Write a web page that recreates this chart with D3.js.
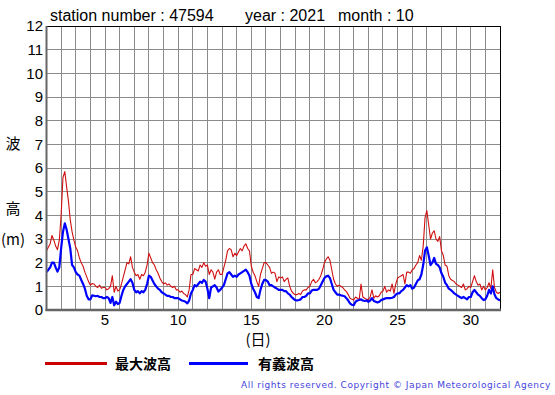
<!DOCTYPE html>
<html><head><meta charset="utf-8">
<script src="https://cdn.jsdelivr.net/npm/d3@7"></script>
<style>body{margin:0;background:#fff}svg{display:block}text{font-family:"Liberation Sans",Arial,sans-serif}</style>
</head><body>
<svg id="c" width="555" height="395"></svg>
<script>
// 3-hourly values, Oct 1 00h .. Nov 1 00h (8 per day)
const maxWave = [
 2.5,2.65,2.8,3.15,2.95,2.7,2.55,2.95,
 4.0,5.6,5.85,5.2,4.6,3.8,3.3,2.95,
 2.65,2.5,2.2,2.0,1.85,1.6,1.4,1.2,
 1.05,1.12,1.1,1.0,0.95,1.05,0.92,0.95,
 0.95,0.85,0.9,1.0,1.45,0.75,1.0,0.8,
 0.85,1.1,1.4,1.7,2.0,1.95,2.25,1.8,
 1.6,1.45,1.5,1.3,1.5,1.45,1.6,1.9,
 2.4,2.2,2.0,1.9,1.7,1.55,1.35,1.2,
 1.1,1.15,1.05,1.1,1.0,0.95,1.0,0.85,
 0.85,0.75,0.8,0.7,0.65,0.55,0.85,1.5,
 1.5,1.75,1.7,1.65,1.9,1.8,2.0,1.85,
 1.9,1.5,1.7,1.6,1.3,1.6,1.7,1.5,
 1.5,1.8,2.1,2.5,2.6,2.55,2.25,2.4,
 2.3,2.45,2.6,2.5,2.7,2.8,2.6,2.5,
 1.85,1.6,1.45,1.2,1.0,1.5,1.75,2.0,
 2.0,1.9,1.8,1.55,1.6,1.55,1.2,1.4,
 1.35,1.4,1.2,1.3,1.35,1.0,0.8,0.7,
 0.65,0.65,0.7,0.65,0.8,0.85,0.85,0.95,
 1.0,1.2,1.3,1.15,1.2,1.3,1.45,1.7,
 2.0,2.15,2.25,2.1,1.7,1.3,1.1,1.0,
 1.05,1.0,0.95,0.85,0.78,0.65,0.5,0.45,
 0.42,0.55,0.5,0.45,1.1,0.55,0.5,0.45,
 0.45,0.55,0.85,0.5,0.6,0.55,0.6,0.75,
 0.8,1.0,0.75,0.85,0.8,1.1,0.7,1.1,
 1.35,1.4,1.45,1.5,1.1,1.6,1.6,1.55,
 1.7,1.75,1.9,2.0,2.3,2.1,2.7,3.9,
 4.2,3.6,3.0,3.25,3.35,3.0,2.9,3.1,
 2.5,2.3,1.9,1.85,1.45,1.3,1.25,1.2,
 1.1,1.05,1.0,0.95,1.1,0.85,0.9,1.0,
 0.95,1.2,1.45,1.2,1.05,1.1,0.85,1.0,
 0.85,0.95,1.15,0.9,1.7,0.95,0.75,0.7,
 0.75];
const sigWave = [
 1.6,1.7,1.8,2.0,2.0,1.8,1.62,1.8,
 2.6,3.3,3.66,3.4,3.0,2.6,1.9,1.8,
 1.6,1.5,1.45,1.27,1.1,0.9,0.6,0.45,
 0.45,0.62,0.6,0.58,0.6,0.55,0.55,0.5,
 0.5,0.55,0.5,0.3,0.55,0.2,0.35,0.25,
 0.3,0.6,0.85,1.0,1.1,1.2,1.3,1.15,
 0.85,0.75,0.8,0.7,0.8,0.75,0.85,1.1,
 1.45,1.4,1.25,1.1,1.0,0.9,0.85,0.75,
 0.7,0.65,0.6,0.6,0.55,0.55,0.5,0.5,
 0.5,0.45,0.4,0.38,0.35,0.28,0.4,0.7,
 0.85,1.05,1.0,1.1,1.2,1.15,1.27,1.2,
 0.9,0.5,0.95,1.0,1.05,0.95,0.78,0.85,
 0.95,1.05,1.3,1.55,1.6,1.5,1.4,1.45,
 1.4,1.5,1.55,1.6,1.65,1.7,1.6,1.45,
 1.1,0.9,0.75,0.55,0.5,0.85,1.1,1.27,
 1.27,1.2,1.05,1.05,1.0,0.95,0.9,0.85,
 0.85,0.85,0.8,0.8,0.7,0.65,0.55,0.48,
 0.42,0.4,0.42,0.45,0.55,0.55,0.6,0.7,
 0.7,0.82,0.85,0.85,0.85,0.9,1.05,1.2,
 1.35,1.42,1.45,1.35,1.1,0.85,0.75,0.65,
 0.65,0.62,0.6,0.58,0.5,0.4,0.28,0.22,
 0.2,0.35,0.4,0.42,0.45,0.4,0.38,0.4,
 0.35,0.4,0.5,0.38,0.35,0.32,0.35,0.42,
 0.45,0.48,0.5,0.5,0.5,0.52,0.55,0.65,
 0.7,0.7,0.8,0.85,0.95,1.05,1.0,1.05,
 0.9,0.95,1.1,1.25,1.3,1.5,1.9,2.5,
 2.65,2.3,1.9,2.0,2.2,1.95,1.9,1.8,
 1.55,1.4,1.15,1.05,0.9,0.85,0.78,0.7,
 0.65,0.6,0.55,0.5,0.55,0.5,0.45,0.55,
 0.55,0.75,0.85,0.75,0.65,0.6,0.5,0.42,
 0.45,0.6,0.85,0.7,1.0,0.65,0.5,0.45,
 0.4];
const xTicks = [5,10,15,20,25,30];
const yTicks = [0,1,2,3,4,5,6,7,8,9,10,11,12];
const titleParts = ["station number : 47594","year : 2021","month : 10"];
const seriesNames = ["最大波高","有義波高"];

const svg = d3.select("#c");
const L=46.5, R=500, T=26, B=310;
const x = d3.scaleLinear().domain([1,32]).range([L,R]);
const y = d3.scaleLinear().domain([0,12]).range([B,T]);
const days = d3.range(1,33);

// grid
const g = svg.append("g");
g.selectAll(".vg").data(days).join("line")
  .attr("x1",d=>x(d)).attr("x2",d=>x(d)).attr("y1",T).attr("y2",B)
  .attr("stroke","#8c8c8c").attr("stroke-width",1).attr("shape-rendering","crispEdges");
g.selectAll(".hg").data(yTicks).join("line")
  .attr("x1",L).attr("x2",R).attr("y1",d=>y(d)).attr("y2",d=>y(d))
  .attr("stroke","#8c8c8c").attr("stroke-width",1).attr("shape-rendering","crispEdges");

// lines
const tOf = i => 1 + i/8;
const line = d3.line().x((d,i)=>x(tOf(i))).y(d=>y(d));
svg.append("path").datum(maxWave).attr("d",line)
  .attr("fill","none").attr("stroke","#d01010").attr("stroke-width",1.1).attr("stroke-linejoin","round");
svg.append("path").datum(sigWave).attr("d",line)
  .attr("fill","none").attr("stroke","#0000ff").attr("stroke-width",2.2).attr("stroke-linejoin","round");

// frame
svg.append("line").attr("x1",L).attr("x2",R).attr("y1",T+0.5).attr("y2",T+0.5).attr("stroke","#000");
svg.append("line").attr("x1",R+0.5).attr("x2",R+0.5).attr("y1",T).attr("y2",B).attr("stroke","#000");
svg.append("line").attr("x1",L).attr("x2",L).attr("y1",T).attr("y2",B+1).attr("stroke","#666").attr("stroke-width",2);
svg.append("line").attr("x1",L-1).attr("x2",R+1).attr("y1",B).attr("y2",B).attr("stroke","#666").attr("stroke-width",2.5);

// axis labels
svg.selectAll(".yt").data(yTicks).join("text")
  .attr("x",43).attr("y",d=>y(d)).attr("dy","0.36em").attr("text-anchor","end")
  .attr("font-size",15).attr("fill","#000").text(d=>d);
svg.selectAll(".xt").data(xTicks).join("text")
  .attr("x",d=>x(d)).attr("y",325).attr("text-anchor","middle")
  .attr("font-size",15).attr("fill","#000").text(d=>d);

// title
const tx=[50,245,338];
svg.selectAll(".tt").data(titleParts).join("text")
  .attr("x",(d,i)=>tx[i]).attr("y",21).attr("font-size",16).attr("fill","#000").text(d=>d);

// axis titles
const cjk = '"Noto Sans CJK JP","Noto Sans CJK SC",sans-serif';
svg.append("text").attr("x",13).attr("y",149).attr("text-anchor","middle").attr("font-size",15).style("font-family",cjk).text("波");
svg.append("text").attr("x",13).attr("y",214).attr("text-anchor","middle").attr("font-size",15).style("font-family",cjk).text("高");
svg.append("text").attr("x",1).attr("y",245).attr("font-size",15).style("font-family",cjk).text("(m)");
svg.append("text").attr("x",258).attr("y",345).attr("text-anchor","middle").attr("font-size",15).style("font-family",cjk).text("(日)");

// legend
const lg = [{c:"#cc0000",x1:45,x2:107,tx:115},{c:"#0000ff",x1:189,x2:248,tx:258}];
lg.forEach((d,i)=>{
  svg.append("line").attr("x1",d.x1).attr("x2",d.x2).attr("y1",363.5).attr("y2",363.5).attr("stroke",d.c).attr("stroke-width",3);
  svg.append("text").attr("x",d.tx).attr("y",368.5).attr("font-size",14).attr("font-weight","bold").style("font-family",cjk).text(seriesNames[i]);
});

// copyright
svg.append("text").attr("x",551).attr("y",388).attr("text-anchor","end").attr("font-size",9)
  .attr("letter-spacing","0.55px").attr("fill","#4444dd").style("font-family",'"DejaVu Sans",sans-serif')
  .text("All rights reserved. Copyright © Japan Meteorological Agency");
</script>
</body></html>
